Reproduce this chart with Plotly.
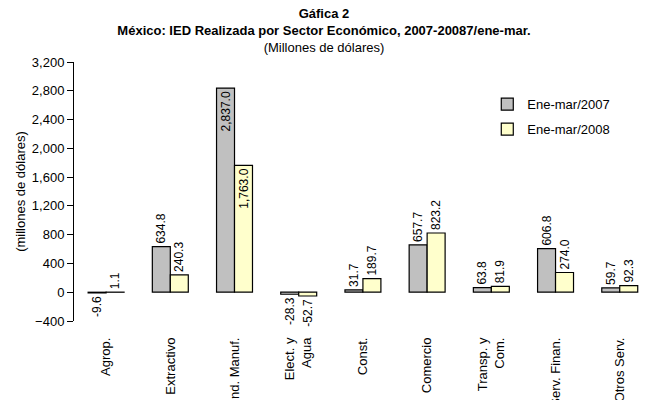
import plotly.graph_objects as go

categories = ["Agrop.", "Extractivo", "Ind. Manuf.", "Elect. y<br>Agua", "Const.",
              "Comercio", "Transp. y<br>Com.", "Serv. Finan.", "Otros Serv."]
vals_2007 = [-9.6, 634.8, 2837.0, -28.3, 31.7, 657.7, 63.8, 606.8, 59.7]
vals_2008 = [1.1, 240.3, 1763.0, -52.7, 189.7, 823.2, 81.9, 274.0, 92.3]
name_2007 = "Ene-mar/2007"
name_2008 = "Ene-mar/2008"
y_ticks = [-400, 0, 400, 800, 1200, 1600, 2000, 2400, 2800, 3200]

FONT = "Liberation Sans, Arial, sans-serif"


def positions(vals):
    return ["inside" if v > 1700 else "outside" for v in vals]


fig = go.Figure()
for name, vals, color in [(name_2007, vals_2007, "#C0C0C0"), (name_2008, vals_2008, "#FFFFCC")]:
    fig.add_trace(go.Bar(
        x=categories, y=vals, name=name, legendgroup=name,
        marker=dict(color=color, line=dict(color="black", width=1.2)),
        texttemplate="%{y:,.1f}", textposition=positions(vals), textangle=-90,
        insidetextanchor="end", constraintext="none", cliponaxis=False,
        textfont=dict(family=FONT, size=12, color="black"),
    ))

fig.update_layout(
    width=648, height=400,
    margin=dict(l=74, r=0, t=62, b=79, autoexpand=False),
    paper_bgcolor="white", plot_bgcolor="white",
    font=dict(family=FONT, size=13, color="black"),
    barmode="group", bargap=0.44, bargroupgap=0,
    title=dict(
        text="<b>Gáfica 2</b><br><b>México: IED Realizada por Sector Económico, 2007-20087/ene-mar.</b><br>(Millones de dólares)",
        x=0.5, xanchor="center", xref="container", y=0.955, yanchor="top",
        font=dict(family=FONT, size=13, color="black"),
    ),
    xaxis=dict(
        type="category", range=[-0.5, 8.44], showline=False, showgrid=False,
        ticks="", tickangle=-90, ticklabelstandoff=13, automargin=False,
        tickfont=dict(family=FONT, size=13, color="black"),
    ),
    xaxis2=dict(
        overlaying="x", anchor="free", position=400 / 3600, range=[-0.5, 8.44],
        showline=True, linecolor="black", linewidth=1, showgrid=False, zeroline=False,
        ticks="outside", ticklen=5, tickcolor="black", tick0=-0.5, dtick=1,
        showticklabels=False, automargin=False,
    ),
    yaxis=dict(
        range=[-400, 3200], tickvals=y_ticks, tickformat=",", showgrid=False,
        zeroline=False, showline=True, linecolor="black", linewidth=1,
        ticks="outside", ticklen=6, tickcolor="black", automargin=False,
        title=dict(text="(millones de dólares)", standoff=3,
                   font=dict(family=FONT, size=13, color="black")),
        tickfont=dict(family=FONT, size=13, color="black"),
    ),
    legend=dict(
        x=0.72, y=0.895, xanchor="left", yanchor="top",
        bgcolor="rgba(0,0,0,0)", font=dict(family=FONT, size=13, color="black"),
        traceorder="grouped", tracegroupgap=5,
    ),
    showlegend=True,
)

fig.write_html("out.html", config={"displayModeBar": False},
               post_script="document.body.style.margin='0';")
